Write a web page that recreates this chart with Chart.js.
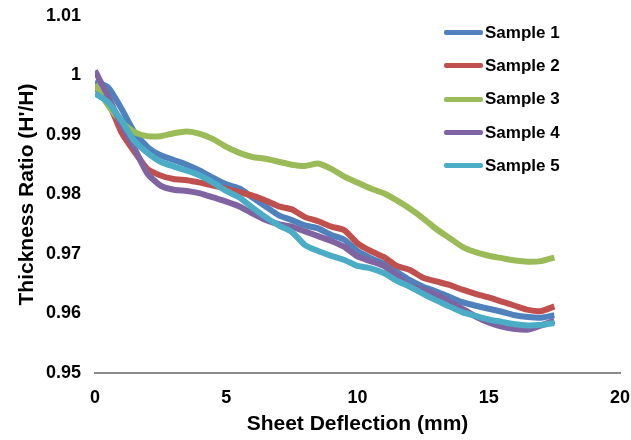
<!DOCTYPE html>
<html lang="en">
<head>
  <meta charset="UTF-8" />
  <title>Thickness Ratio vs Sheet Deflection</title>
  <script src="https://cdn.jsdelivr.net/npm/chart.js"></script>
  <style>
    html, body { margin: 0; padding: 0; background: #fff; }
    #wrap { position: relative; width: 631px; height: 440px; }
    #legend { position: absolute; left: 444px; top: 16px; font: bold 17px "Liberation Sans", Arial, sans-serif; color: #000; }
    #legend div { display: flex; align-items: center; height: 33.3px; }
    #legend span.sw { display: inline-block; width: 39px; height: 5px; border-radius: 2px; margin-right: 2px; }
  </style>
</head>
<body>
  <div id="wrap">
    <canvas id="chart" width="631" height="440"></canvas>
    <div id="legend"></div>
  </div>

  <script>
    // Sheet deflection (mm)
    const deflection = [0, 0.5, 1, 1.5, 2, 2.5, 3, 3.5, 4, 4.5, 5, 5.5, 6, 6.5, 7, 7.5, 8, 8.5,
      9, 9.5, 10, 10.5, 11, 11.5, 12, 12.5, 13, 13.5, 14, 14.5, 15, 15.5, 16, 16.5, 17, 17.5];

    // Thickness ratio per sample
    const sample1 = [0.999, 0.998, 0.9945, 0.9905, 0.988, 0.9866, 0.9858, 0.985, 0.984, 0.9828, 0.9817, 0.981,
      0.9795, 0.978, 0.9765, 0.9757, 0.9748, 0.9743, 0.9732, 0.9724, 0.9705, 0.9693, 0.9684, 0.967,
      0.9656, 0.9645, 0.9637, 0.9628, 0.9619, 0.9613, 0.9608, 0.9603, 0.9597, 0.9594, 0.9593, 0.9597];
    const sample2 = [0.998, 0.9955, 0.9905, 0.9872, 0.9843, 0.9832, 0.9826, 0.9824, 0.982, 0.9815, 0.981, 0.9804,
      0.9798, 0.979, 0.978, 0.9775, 0.9762, 0.9755, 0.9746, 0.974, 0.9718, 0.9705, 0.9695, 0.968,
      0.9673, 0.966, 0.9654, 0.9648, 0.964, 0.9633, 0.9627, 0.962, 0.9613, 0.9606, 0.9604, 0.9612];
    const sample3 = [0.9985, 0.995, 0.9922, 0.9905, 0.9898, 0.9898, 0.9903, 0.9906, 0.9902, 0.9893, 0.988, 0.987,
      0.9863, 0.986, 0.9855, 0.985, 0.9848, 0.9852, 0.9843, 0.983, 0.982, 0.981, 0.9802, 0.979,
      0.9776, 0.976, 0.9742, 0.9727, 0.9712, 0.9703, 0.9697, 0.9693, 0.9689, 0.9687, 0.9688, 0.9694];
    const sample4 = [1.0008, 0.9965, 0.9918, 0.9878, 0.9835, 0.9815, 0.9808, 0.9806, 0.9802, 0.9795, 0.9788, 0.978,
      0.9768, 0.9757, 0.975, 0.9746, 0.9738, 0.973, 0.9722, 0.9712, 0.9696, 0.9688, 0.968, 0.9664,
      0.9646, 0.964, 0.9632, 0.962, 0.9608, 0.9595, 0.9585, 0.9578, 0.9574, 0.9573, 0.958, 0.9588];
    const sample5 = [0.997, 0.9955, 0.9925, 0.989, 0.987, 0.9855, 0.9847, 0.984, 0.9832, 0.982, 0.9806, 0.9795,
      0.9778, 0.9762, 0.9748, 0.9737, 0.9715, 0.9705, 0.9697, 0.969, 0.968, 0.9676, 0.9668, 0.9655,
      0.9645, 0.9633, 0.9622, 0.9612, 0.9602, 0.9596, 0.959, 0.9586, 0.9582, 0.958, 0.9581, 0.9584];

    const seriesNames = ['Sample 1', 'Sample 2', 'Sample 3', 'Sample 4', 'Sample 5'];
    const seriesData = [sample1, sample2, sample3, sample4, sample5];
    const colors = ['#4F81BD', '#C0504D', '#9BBB59', '#8064A2', '#4BACC6'];

    const font = '"Liberation Sans", Arial, sans-serif';

    // legend as html
    const legend = document.getElementById('legend');
    seriesNames.forEach((name, i) => {
      const row = document.createElement('div');
      row.innerHTML = `<span class="sw" style="background:${colors[i]}"></span>${name}`;
      legend.appendChild(row);
    });

    // later samples drawn on top, like the original
    const datasets = seriesNames.map((name, i) => ({
      label: name,
      data: deflection.map((x, j) => ({ x: x, y: seriesData[i][j] })),
      borderColor: colors[i],
      borderWidth: 6,
      pointRadius: 0,
      tension: 0.2,
      fill: false,
      order: seriesNames.length - i
    }));

    const ctx = document.getElementById('chart').getContext('2d');
    new Chart(ctx, {
      type: 'line',
      data: { datasets: datasets },
      options: {
        responsive: false,
        animation: false,
        layout: { padding: 0 },
        plugins: { legend: { display: false }, tooltip: { enabled: false } },
        scales: {
          x: {
            type: 'linear', min: 0, max: 20,
            ticks: { stepSize: 5, color: '#000', font: { family: font, size: 18, weight: 'bold' }, padding: 14 },
            grid: { display: false, drawTicks: false },
            border: { display: true, color: '#8c8c8c', width: 2 },
            title: { display: true, text: 'Sheet Deflection (mm)', color: '#000', font: { family: font, size: 21, weight: 'bold' }, padding: { top: 0, bottom: 3 } },
            afterFit(scale) { scale.height = 67; scale.paddingRight = 11; scale.paddingLeft = 0; }
          },
          y: {
            min: 0.95, max: 1.01,
            ticks: {
              stepSize: 0.01, color: '#000', padding: 14,
              font: { family: font, size: 18, weight: 'bold' },
              callback: v => String(Number(v.toFixed(2)))
            },
            grid: { display: false, drawTicks: false },
            border: { display: false },
            title: { display: true, text: "Thickness Ratio (H'/H)", color: '#000', font: { family: font, size: 21, weight: 'bold' }, padding: { top: 15, bottom: 4 } },
            afterFit(scale) { scale.width = 95; scale.paddingTop = 16; scale.paddingBottom = 0; }
          }
        }
      }
    });
  </script>
</body>
</html>
